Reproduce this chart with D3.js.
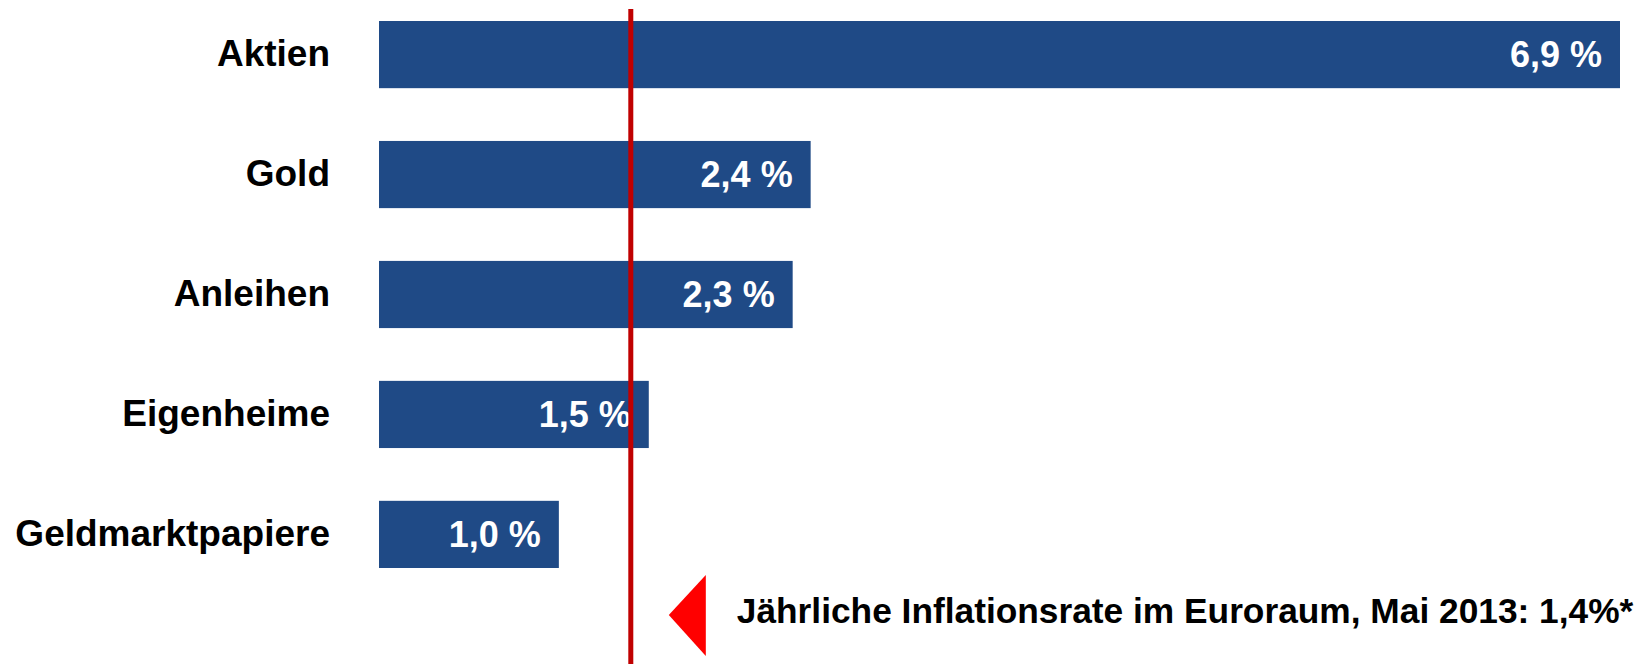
<!DOCTYPE html>
<html>
<head>
<meta charset="utf-8">
<script src="https://cdn.jsdelivr.net/npm/d3@7"></script>
<style>
  html, body { margin: 0; padding: 0; background: #fff; }
  svg { display: block; font-family: "Liberation Sans", Arial, sans-serif; font-weight: bold; }
</style>
</head>
<body>
<svg id="chart" width="1648" height="664"></svg>
<script>
// data
const categories = ["Aktien", "Gold", "Anleihen", "Eigenheime", "Geldmarktpapiere"];
const returns = [6.9, 2.4, 2.3, 1.5, 1.0];
const inflation = 1.4;
const inflationNote = "Jährliche Inflationsrate im Euroraum, Mai 2013: 1,4%*";

(function () {
    const svg = d3.select("#chart");
    const W = 1648, H = 664;
    const fmt = v => d3.format(".1f")(v).replace(".", ",") + " %";

    const x = d3.scaleLinear().domain([0, d3.max(returns)]).range([379, 1620]);
    const y = d3.scaleBand().domain(categories).range([21, 568])
        .paddingInner(0.44).paddingOuter(0);

    const rows = categories.map((c, i) => ({ cat: c, val: returns[i] }));

    // bars
    svg.append("g").selectAll("rect")
        .data(rows).join("rect")
        .attr("x", x(0))
        .attr("y", d => y(d.cat))
        .attr("width", d => x(d.val) - x(0))
        .attr("height", y.bandwidth())
        .attr("fill", "#1F4A86");

    // category labels (axis without line / ticks)
    const ax = svg.append("g")
        .attr("transform", `translate(${x(0) - 49},0)`)
        .call(d3.axisLeft(y).tickSize(0).tickPadding(0));
    ax.select(".domain").remove();
    ax.selectAll("text")
        .attr("font-family", "'Liberation Sans', Arial, sans-serif")
        .attr("font-weight", "bold")
        .attr("font-size", 37)
        .attr("fill", "#000");

    // value labels inside bars
    svg.append("g").selectAll("text")
        .data(rows).join("text")
        .attr("x", d => x(d.val) - 18)
        .attr("y", d => y(d.cat) + y.bandwidth() / 2)
        .attr("dy", "0.35em")
        .attr("text-anchor", "end")
        .attr("font-size", 36)
        .attr("fill", "#fff")
        .text(d => fmt(d.val));

    // inflation line
    const lx = x(inflation);
    svg.append("line")
        .attr("x1", lx).attr("x2", lx)
        .attr("y1", 9).attr("y2", H)
        .attr("stroke", "#C00000")
        .attr("stroke-width", 5);

    // annotation: triangle + note
    const textEnd = 1634;
    const textStart = lx + 106;
    svg.append("path")
        .attr("d", d3.line()([[lx + 38, 615], [lx + 75, 575], [lx + 75, 656]]) + "Z")
        .attr("fill", "#FF0000");

    const note = svg.append("text")
        .attr("x", textStart)
        .attr("y", 623)
        .attr("font-size", 36)
        .attr("fill", "#000")
        .text(inflationNote);
    // shrink the font so the note fits before the right edge
    const natural = note.node().getComputedTextLength();
    const avail = textEnd - textStart;
    if (natural > avail) note.attr("font-size", Math.floor(36 * avail / natural * 10) / 10);
})();
</script>
</body>
</html>
